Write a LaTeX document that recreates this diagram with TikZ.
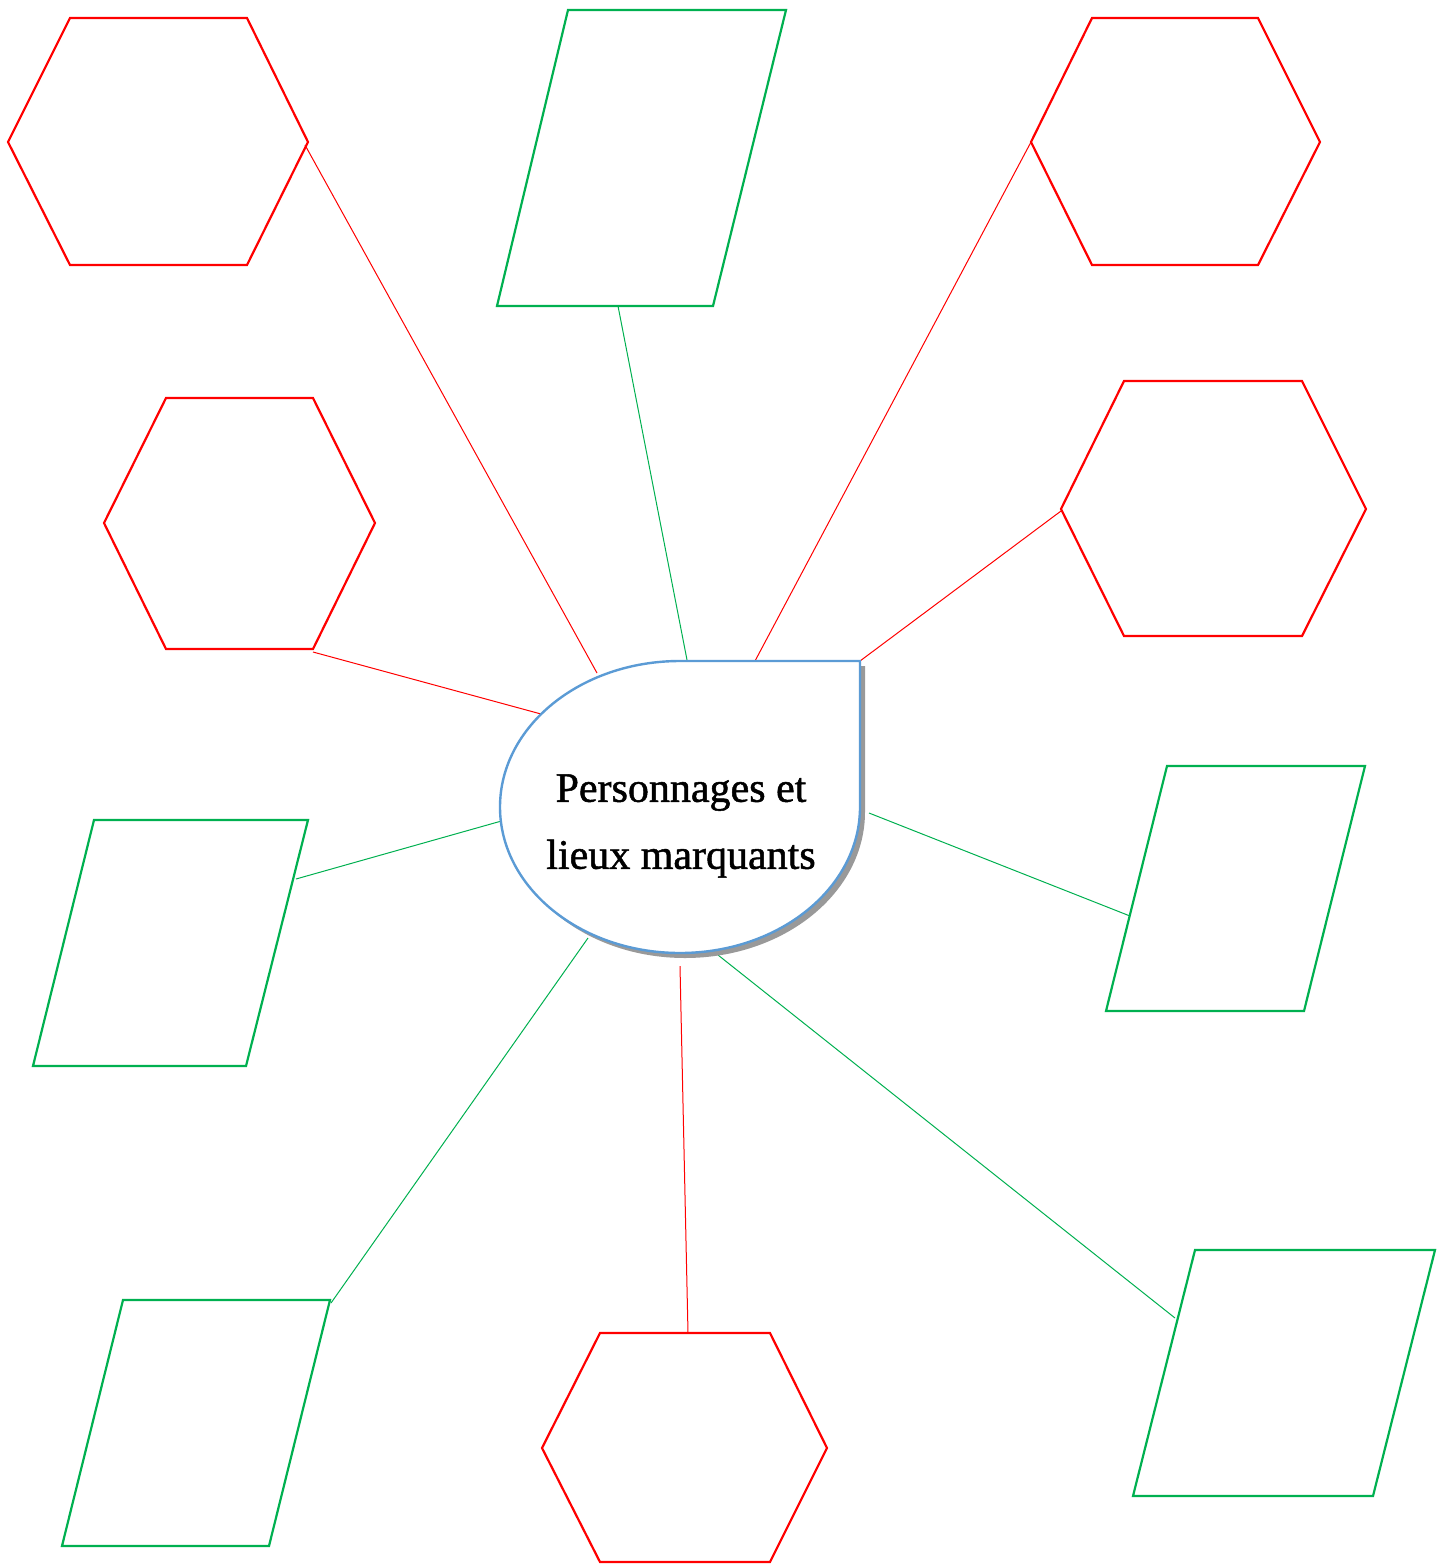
\documentclass[tikz,border=0pt]{standalone}
\usepackage{fontspec}
\setmainfont{Liberation Serif}
\newfontfamily\centrefont[FakeBold=1.2]{Liberation Serif}
\definecolor{hexred}{HTML}{FF0000}
\definecolor{pgreen}{HTML}{00B050}
\definecolor{cblue}{HTML}{5B9BD5}
\definecolor{shad}{HTML}{999999}
\begin{document}
\begin{tikzpicture}[x=1pt,y=-1pt,
  hexbox/.style={draw=hexred,line width=2.2pt,line join=miter},
  parbox/.style={draw=pgreen,line width=2.2pt,line join=miter},
  redlink/.style={draw=hexred,line width=1pt},
  greenlink/.style={draw=pgreen,line width=1pt},
  centre/.style={draw=cblue,line width=2.4pt,fill=white}]
\useasboundingbox (0,0) rectangle (1446,1564);
% hexagons
\draw[hexbox] (8,142) -- (70,18) -- (247,18) -- (308,142) -- (247,265) -- (70,265) -- cycle;
\draw[hexbox] (104,523) -- (166,398) -- (313,398) -- (375,523) -- (313,649) -- (166,649) -- cycle;
\draw[hexbox] (1031,142) -- (1092,18) -- (1258,18) -- (1320,142) -- (1258,265) -- (1092,265) -- cycle;
\draw[hexbox] (1061,509) -- (1124,381) -- (1302,381) -- (1366,509) -- (1302,636) -- (1124,636) -- cycle;
\draw[hexbox] (542,1448) -- (600,1333) -- (770,1333) -- (827,1448) -- (770,1562) -- (600,1562) -- cycle;
% parallelograms
\draw[parbox] (568,10) -- (786,10) -- (713,306) -- (497,306) -- cycle;
\draw[parbox] (94,820) -- (308,820) -- (246,1066) -- (33,1066) -- cycle;
\draw[parbox] (1167,766) -- (1365,766) -- (1304,1011) -- (1106,1011) -- cycle;
\draw[parbox] (123,1300) -- (330,1300) -- (269,1546) -- (62,1546) -- cycle;
\draw[parbox] (1195,1250) -- (1435,1250) -- (1373,1496) -- (1133,1496) -- cycle;
% connector end points
\coordinate (h1) at (305,145);   \coordinate (c1) at (597,673);
\coordinate (p1) at (618,306);   \coordinate (c2) at (688,665);
\coordinate (h3) at (1031,142);  \coordinate (c3) at (755,661);
\coordinate (h4) at (1061,511);  \coordinate (c4) at (860,661);
\coordinate (h2) at (313,652);   \coordinate (c5) at (541,714);
\coordinate (p2) at (296,879);   \coordinate (c6) at (505,820);
\coordinate (p3) at (1130,916);  \coordinate (c7) at (869,813);
\coordinate (p4) at (331,1303);  \coordinate (c8) at (588,938);
\coordinate (h5) at (688,1333);  \coordinate (c9) at (680,966);
\coordinate (p5) at (1175,1318); \coordinate (c10) at (718,955);
% connectors
\draw[redlink] (h1) -- (c1);
\draw[greenlink] (p1) -- (c2);
\draw[redlink] (h3) -- (c3);
\draw[redlink] (h4) -- (c4);
\draw[redlink] (h2) -- (c5);
\draw[greenlink] (p2) -- (c6);
\draw[greenlink] (p3) -- (c7);
\draw[greenlink] (p4) -- (c8);
\draw[redlink] (h5) -- (c9);
\draw[greenlink] (p5) -- (c10);
% central teardrop with shadow
\fill[shad] (865,812) -- (865,666) -- (685,666)
  arc[start angle=270,end angle=0,x radius=180,y radius=146] -- cycle;
\draw[centre] (860,807) -- (860,661) -- (680,661)
  arc[start angle=270,end angle=0,x radius=180,y radius=146] -- cycle;
\node[align=center,font=\centrefont\fontsize{42}{67}\selectfont] (centre) at (681,826)
  {Personnages et\\lieux marquants};
\end{tikzpicture}
\end{document}
